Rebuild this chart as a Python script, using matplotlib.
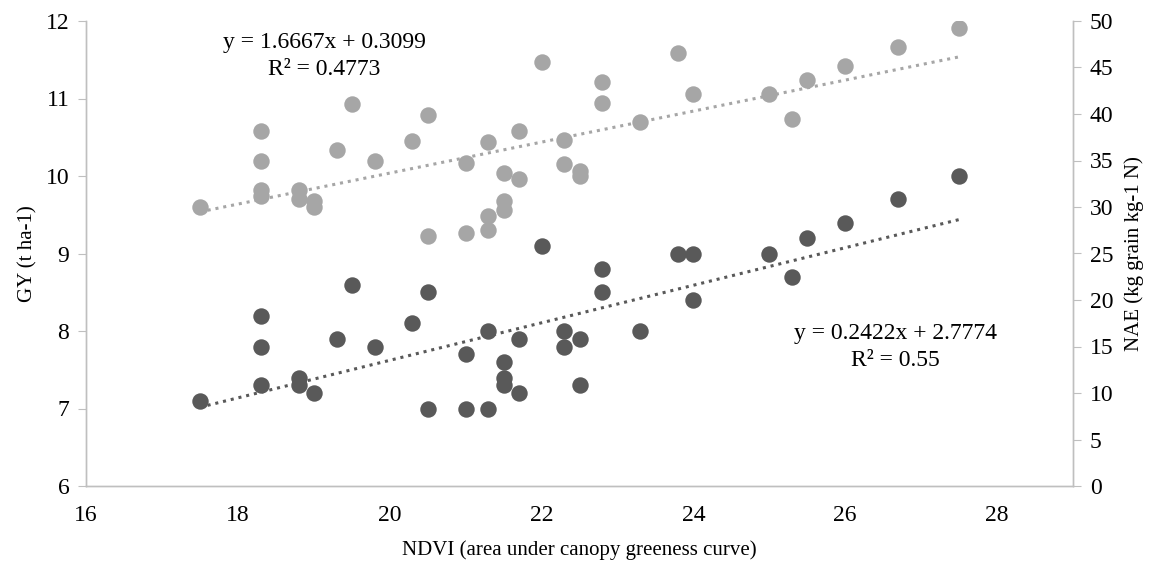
import matplotlib
matplotlib.use("Agg")
import matplotlib.pyplot as plt
import numpy as np

plt.rcParams['font.family'] = ['Liberation Serif', 'DejaVu Serif']

# GY (t ha-1), left axis - dark points
gy_x = [17.5, 18.3, 18.3, 18.3, 18.8, 18.8, 19.0, 19.3, 19.5, 19.8, 20.3, 20.5, 20.5,
        21.0, 21.0, 21.3, 21.3, 21.5, 21.5, 21.5, 21.7, 21.7, 22.0, 22.3, 22.3, 22.5, 22.5,
        22.8, 22.8, 23.3, 23.8, 24.0, 24.0, 25.0, 25.3, 25.5, 26.0, 26.7, 27.5]
gy_y = [7.1, 8.2, 7.8, 7.3, 7.4, 7.3, 7.2, 7.9, 8.6, 7.8, 8.1, 8.5, 7.0,
        7.7, 7.0, 8.0, 7.0, 7.6, 7.4, 7.3, 7.9, 7.2, 9.1, 8.0, 7.8, 7.9, 7.3,
        8.8, 8.5, 8.0, 9.0, 9.0, 8.4, 9.0, 8.7, 9.2, 9.4, 9.7, 10.0]

# NAE (kg grain kg-1 N), right axis - light points
nae_x = [17.5, 18.3, 18.3, 18.3, 18.3, 18.8, 18.8, 19.0, 19.0, 19.3, 19.5, 19.8, 20.3,
         20.5, 20.5, 21.0, 21.0, 21.3, 21.3, 21.3, 21.5, 21.5, 21.5, 21.7, 21.7, 22.0,
         22.3, 22.3, 22.5, 22.5, 22.8, 22.8, 23.3, 23.8, 24.0, 25.0, 25.3, 25.5, 26.0,
         26.7, 27.5]
nae_y = [30.0, 38.2, 34.9, 31.8, 31.2, 31.8, 30.9, 30.6, 30.0, 36.1, 41.1, 34.9, 37.1,
         39.9, 26.9, 34.7, 27.2, 37.0, 29.0, 27.5, 33.7, 30.6, 29.7, 38.2, 33.0, 45.6,
         37.2, 34.6, 33.9, 33.3, 43.4, 41.2, 39.1, 46.6, 42.1, 42.1, 39.5, 43.7, 45.2,
         47.2, 49.3]

gy_fit = (0.2422, 2.7774)
nae_fit = (1.6667, 0.3099)

dark = '#595959'
light = '#a6a6a6'
axcol = '#bfbfbf'
fs = 15
fs_tick = 17

fig = plt.figure(figsize=(11.55, 5.68), dpi=100)
ax = fig.add_axes([86 / 1155, 82 / 568, 987 / 1155, 465 / 568])
ax2 = ax.twinx()

ax.scatter(gy_x, gy_y, s=140, color=dark, zorder=3, linewidths=0)
ax2.scatter(nae_x, nae_y, s=140, color=light, zorder=3, linewidths=0)

xl = np.array([min(gy_x), max(gy_x)])
ax.plot(xl, gy_fit[0] * xl + gy_fit[1], color=dark, lw=2.2, linestyle=(0, (1, 1.6)), zorder=2)
xl2 = np.array([min(nae_x), max(nae_x)])
ax2.plot(xl2, nae_fit[0] * xl2 + nae_fit[1], color=light, lw=2.2, linestyle=(0, (1, 1.6)), zorder=2)

ax.set_xlim(16, 29)
ax.set_ylim(6, 12)
ax2.set_ylim(0, 50)
ax.set_xticks(np.arange(16, 29, 2))
ax.set_yticks(np.arange(6, 13, 1))
ax2.set_yticks(np.arange(0, 51, 5))

for a in (ax, ax2):
    a.spines['top'].set_visible(False)
    for sp in ('left', 'right', 'bottom'):
        a.spines[sp].set_color(axcol)
        a.spines[sp].set_linewidth(1.0)
ax.tick_params(axis='y', direction='out', length=6, color=axcol, labelsize=fs_tick, pad=6)
ax2.tick_params(axis='y', direction='out', length=6, color=axcol, labelsize=fs_tick, pad=6)
ax.tick_params(axis='x', length=0, labelsize=fs_tick, pad=14)

ax.set_xlabel('NDVI (area under canopy greeness curve)', fontsize=fs, labelpad=10)
ax.set_ylabel('GY (t ha-1)', fontsize=fs, labelpad=6)
ax2.set_ylabel('NAE (kg grain kg-1 N)', fontsize=fs, labelpad=8)

ax.text(19.14, 11.72, 'y = 1.6667x + 0.3099', fontsize=fs_tick, ha='center', va='center')
ax.text(19.14, 11.38, 'R² = 0.4773', fontsize=fs_tick, ha='center', va='center')
ax.text(26.66, 7.97, 'y = 0.2422x + 2.7774', fontsize=fs_tick, ha='center', va='center')
ax.text(26.66, 7.62, 'R² = 0.55', fontsize=fs_tick, ha='center', va='center')

fig.savefig('out.png', dpi=100)
